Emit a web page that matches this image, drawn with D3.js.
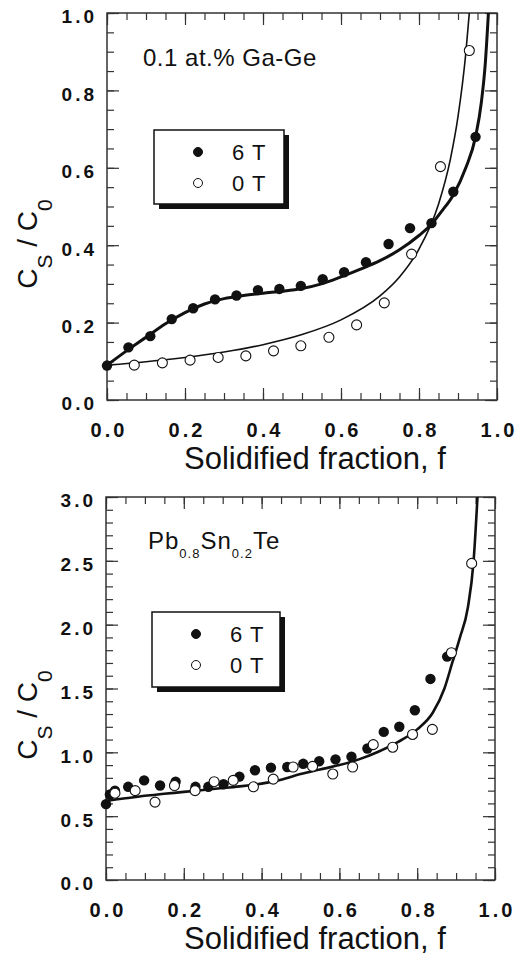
<!DOCTYPE html>
<html>
<head>
<meta charset="utf-8">
<script src="https://cdn.jsdelivr.net/npm/d3@7/dist/d3.min.js"></script>
<style>
body{margin:0;background:#fff;}
text{font-family:"Liberation Sans",Arial,Helvetica,sans-serif;fill:#111;}
</style>
</head>
<body>
<div id="chart"></div>
<script>
// values
var fracTicks = [0, 0.2, 0.4, 0.6, 0.8, 1.0];
var gaTicks = [0, 0.2, 0.4, 0.6, 0.8, 1.0];
var pbTicks = [0, 0.5, 1.0, 1.5, 2.0, 2.5, 3.0];
var legendLabels = ["6 T", "0 T"];

// 0.1 at.% Ga-Ge
var ga6F = [0.0, 0.055, 0.111, 0.166, 0.221, 0.277, 0.332, 0.387, 0.442, 0.497, 0.553, 0.608, 0.664, 0.722, 0.777, 0.832, 0.888, 0.945];
var ga6C = [0.089, 0.136, 0.165, 0.209, 0.237, 0.260, 0.270, 0.284, 0.287, 0.295, 0.312, 0.330, 0.356, 0.403, 0.444, 0.457, 0.538, 0.680];
var ga0F = [0.070, 0.142, 0.213, 0.285, 0.356, 0.427, 0.497, 0.569, 0.640, 0.711, 0.781, 0.855, 0.929];
var ga0C = [0.090, 0.096, 0.103, 0.110, 0.114, 0.127, 0.140, 0.162, 0.194, 0.251, 0.377, 0.603, 0.903];
var gaFit6F = [0, 0.05, 0.1, 0.15, 0.2, 0.25, 0.3, 0.35, 0.4, 0.45, 0.5, 0.55, 0.6, 0.65, 0.7, 0.75, 0.8, 0.83, 0.86, 0.888, 0.92, 0.945, 0.96, 0.97, 0.978];
var gaFit6C = [0.09, 0.127, 0.162, 0.197, 0.226, 0.248, 0.262, 0.270, 0.276, 0.281, 0.288, 0.300, 0.318, 0.338, 0.360, 0.388, 0.425, 0.452, 0.49, 0.53, 0.60, 0.68, 0.77, 0.87, 1.0];
var gaFit0F = [0, 0.1, 0.2, 0.3, 0.4, 0.5, 0.6, 0.7, 0.75, 0.8, 0.85, 0.88, 0.9, 0.92, 0.93];
var gaFit0C = [0.090, 0.099, 0.110, 0.124, 0.143, 0.169, 0.207, 0.269, 0.318, 0.390, 0.506, 0.620, 0.732, 0.896, 1.012];

// Pb0.8Sn0.2Te
var pb6F = [0.0, 0.01, 0.023, 0.057, 0.098, 0.139, 0.179, 0.23, 0.263, 0.302, 0.343, 0.383, 0.424, 0.466, 0.507, 0.548, 0.590, 0.631, 0.672, 0.714, 0.754, 0.794, 0.834, 0.877];
var pb6C = [0.594, 0.67, 0.70, 0.73, 0.78, 0.74, 0.77, 0.73, 0.73, 0.75, 0.81, 0.86, 0.88, 0.885, 0.91, 0.93, 0.945, 0.966, 1.03, 1.16, 1.20, 1.33, 1.575, 1.75];
var pb0F = [0.023, 0.075, 0.126, 0.176, 0.229, 0.278, 0.327, 0.379, 0.430, 0.481, 0.531, 0.583, 0.634, 0.687, 0.737, 0.788, 0.839, 0.888, 0.940];
var pb0C = [0.68, 0.70, 0.61, 0.74, 0.70, 0.77, 0.78, 0.73, 0.79, 0.885, 0.89, 0.83, 0.885, 1.06, 1.04, 1.14, 1.18, 1.78, 2.48];
var pbFitF = [0, 0.05, 0.1, 0.15, 0.2, 0.25, 0.3, 0.35, 0.4, 0.45, 0.5, 0.55, 0.6, 0.65, 0.7, 0.75, 0.8, 0.84, 0.87, 0.89, 0.91, 0.93, 0.945, 0.955];
var pbFitC = [0.62, 0.64, 0.66, 0.675, 0.69, 0.705, 0.72, 0.735, 0.755, 0.785, 0.83, 0.865, 0.90, 0.945, 1.005, 1.08, 1.18, 1.31, 1.50, 1.70, 1.90, 2.13, 2.50, 3.0];

function zip(a, b){ return a.map(function(v,i){ return [v, b[i]]; }); }

var svg = d3.select("#chart").append("svg").attr("width",520).attr("height",956);
var ls = 3;

function drawPanel(p){
    var g = svg.append("g");
    var x = d3.scaleLinear().domain([0,1]).range([p.left,p.right]);
    var y = d3.scaleLinear().domain([0,p.yMax]).range([p.bottom,p.top]);

    var clipId = "clip" + p.id;
    svg.append("clipPath").attr("id",clipId).append("rect")
        .attr("x",p.left).attr("y",p.top).attr("width",p.right-p.left).attr("height",p.bottom-p.top);

    // minor + major ticks, all inward, on all four sides
    var xMinor = d3.range(0, 1.0001, 0.05);
    var yMinor = d3.range(0, p.yMax + 0.0001, p.yMinor);
    function noDomain(s){ s.select(".domain").remove(); s.selectAll("line").attr("stroke","#333").attr("stroke-width",1.2); }

    g.append("g").attr("transform","translate(0,"+p.bottom+")").call(d3.axisBottom(x).tickValues(xMinor).tickSize(-7).tickFormat("")).call(noDomain);
    g.append("g").attr("transform","translate(0,"+p.top+")").call(d3.axisTop(x).tickValues(xMinor).tickSize(-7).tickFormat("")).call(noDomain);
    g.append("g").attr("transform","translate("+p.left+",0)").call(d3.axisLeft(y).tickValues(yMinor).tickSize(-7).tickFormat("")).call(noDomain);
    g.append("g").attr("transform","translate("+p.right+",0)").call(d3.axisRight(y).tickValues(yMinor).tickSize(-7).tickFormat("")).call(noDomain);

    var xa = g.append("g").attr("transform","translate(0,"+p.bottom+")")
        .call(d3.axisBottom(x).tickValues(fracTicks).tickSize(-12).tickPadding(23).tickFormat(d3.format(".1f"))).call(noDomain);
    xa.selectAll("text").attr("font-size",20).attr("font-weight","bold").attr("letter-spacing",ls).attr("dx",ls/2).attr("fill","#111")
        .style("font-family","'Liberation Sans',Arial,sans-serif");
    var ya = g.append("g").attr("transform","translate("+p.left+",0)")
        .call(d3.axisLeft(y).tickValues(p.yTicks).tickSize(-12).tickPadding(13 - ls).tickFormat(d3.format(".1f"))).call(noDomain);
    ya.selectAll("text").attr("font-size",19).attr("font-weight","bold").attr("letter-spacing",ls).attr("dy","0.52em").attr("fill","#111")
        .style("font-family","'Liberation Sans',Arial,sans-serif");
    g.append("g").attr("transform","translate(0,"+p.top+")").call(d3.axisTop(x).tickValues(fracTicks).tickSize(-12).tickFormat("")).call(noDomain);
    g.append("g").attr("transform","translate("+p.right+",0)").call(d3.axisRight(y).tickValues(p.yTicks).tickSize(-12).tickFormat("")).call(noDomain);

    // frame
    g.append("rect").attr("x",p.left).attr("y",p.top).attr("width",p.right-p.left).attr("height",p.bottom-p.top)
        .attr("fill","none").attr("stroke","#333").attr("stroke-width",1.5);

    var line = d3.line().x(function(d){ return x(d[0]); }).y(function(d){ return y(d[1]); }).curve(d3.curveMonotoneX);
    p.fits.forEach(function(f){
        g.append("path").datum(zip(f.f, f.c)).attr("d",line).attr("fill","none")
            .attr("stroke","#111").attr("stroke-width",f.w).attr("clip-path","url(#"+clipId+")");
    });

    g.selectAll(".filled"+p.id).data(zip(p.fF, p.fC)).enter().append("circle")
        .attr("cx",function(d){ return x(d[0]); }).attr("cy",function(d){ return y(d[1]); })
        .attr("r",5.2).attr("fill","#111");
    g.selectAll(".open"+p.id).data(zip(p.oF, p.oC)).enter().append("circle")
        .attr("cx",function(d){ return x(d[0]); }).attr("cy",function(d){ return y(d[1]); })
        .attr("r",5).attr("fill","#fff").attr("stroke","#111").attr("stroke-width",1.1);

    // legend box with shadow
    var L = p.legend;
    g.append("rect").attr("x",L.x+5).attr("y",L.y+5).attr("width",L.w).attr("height",L.h).attr("fill","#111");
    g.append("rect").attr("x",L.x).attr("y",L.y).attr("width",L.w).attr("height",L.h).attr("fill","#fff").attr("stroke","#111").attr("stroke-width",1.5);
    legendLabels.forEach(function(lab,i){
        var cy = L.y + 22 + i*31;
        g.append("circle").attr("cx",L.x+44).attr("cy",cy).attr("r",4.5)
            .attr("fill", i==0 ? "#111" : "#fff").attr("stroke","#111").attr("stroke-width",1);
        g.append("text").attr("x",L.x+78).attr("y",cy+7.5).attr("font-size",22).attr("letter-spacing",1).text(lab);
    });

    // axis titles
    g.append("text").attr("x",315).attr("y",p.bottom+69).attr("text-anchor","middle").attr("font-size",31)
        .text("Solidified fraction, f");
    var yt = g.append("text").attr("text-anchor","middle").attr("transform","translate(37,"+p.yTitleY+") rotate(-90)").attr("font-size",28);
    yt.append("tspan").text("C");
    yt.append("tspan").attr("font-size",21).attr("dy",15).text("S");
    yt.append("tspan").attr("dy",-15).text(" / C");
    yt.append("tspan").attr("font-size",21).attr("dy",15).text("0");

    return g;
}

var gTop = drawPanel({
    id:"ga", left:107, right:497, top:13, bottom:400, yMax:1.0, yMinor:0.05, yTicks:gaTicks, yTitleY:244,
    fF:ga6F, fC:ga6C, oF:ga0F, oC:ga0C,
    fits:[{f:gaFit0F, c:gaFit0C, w:1.6},{f:gaFit6F, c:gaFit6C, w:3}],
    legend:{x:154, y:130, w:130, h:74}
});
gTop.append("text").attr("x",143).attr("y",66).attr("font-size",24).attr("letter-spacing",0.5).text("0.1 at.% Ga-Ge");

var gBot = drawPanel({
    id:"pb", left:106, right:495, top:497, bottom:880, yMax:3.0, yMinor:0.1, yTicks:pbTicks, yTitleY:715,
    fF:pb6F, fC:pb6C, oF:pb0F, oC:pb0C,
    fits:[{f:pbFitF, c:pbFitC, w:2.6}],
    legend:{x:152, y:612, w:128, h:75}
});
var ann = gBot.append("text").attr("x",148).attr("y",549).attr("font-size",24).attr("letter-spacing",1);
ann.append("tspan").text("Pb");
ann.append("tspan").attr("font-size",13).attr("dy",9).text("0.8");
ann.append("tspan").attr("dy",-9).text("Sn");
ann.append("tspan").attr("font-size",13).attr("dy",9).text("0.2");
ann.append("tspan").attr("dy",-9).text("Te");
</script>
</body>
</html>
